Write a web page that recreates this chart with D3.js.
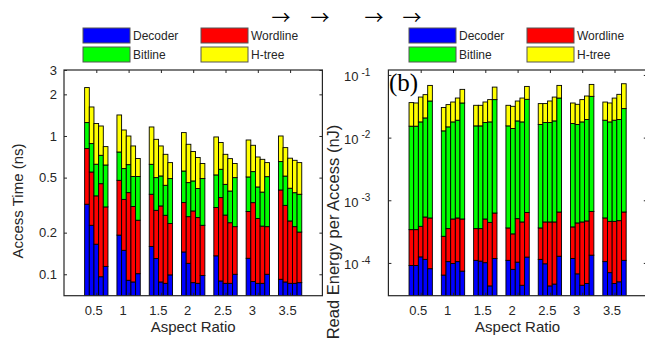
<!DOCTYPE html>
<html>
<head>
<meta charset="utf-8">
<script src="https://cdn.jsdelivr.net/npm/d3@7"></script>
<style>
  html, body { margin: 0; padding: 0; background: #fff; }
  svg { display: block; }
</style>
</head>
<body>
<svg id="chart" width="645" height="345" font-family="Liberation Sans, Arial, sans-serif"></svg>
<script>
// Aspect ratios (x groups) and their tick labels
const aspectRatios = [0.5, 1, 1.5, 2, 2.5, 3, 3.5];
const aspectLabels = ["0.5", "1", "1.5", "2", "2.5", "3", "3.5"];

// Stack components, bottom to top
const componentNames = ["Decoder", "Wordline", "Bitline", "H-tree"];
const componentColors = ["#0000ff", "#ff0000", "#00ff00", "#ffff00"];

// Access time components (ns): one row per aspect ratio, five configurations each
const timeDecoder = [
  [0.321, 0.226, 0.165, 0.096, 0.114],
  [0.192, 0.149, 0.0905, 0.088, 0.101],
  [0.159, 0.130, 0.088, 0.086, 0.099],
  [0.145, 0.120, 0.087, 0.086, 0.098],
  [0.136, 0.0895, 0.086, 0.086, 0.100],
  [0.1305, 0.0886, 0.086, 0.086, 0.100],
  [0.092, 0.088, 0.086, 0.086, 0.087]
];
const timeWordline = [
  [0.490, 0.323, 0.204, 0.356, 0.193],
  [0.286, 0.199, 0.299, 0.221, 0.145],
  [0.220, 0.160, 0.224, 0.181, 0.134],
  [0.185, 0.141, 0.200, 0.171, 0.128],
  [0.168, 0.269, 0.182, 0.150, 0.121],
  [0.154, 0.241, 0.167, 0.137, 0.121],
  [0.315, 0.227, 0.157, 0.135, 0.115]
];
const timeBitline = [
  [0.439, 0.332, 0.256, 0.273, 0.310],
  [0.288, 0.233, 0.231, 0.200, 0.263],
  [0.245, 0.210, 0.202, 0.173, 0.259],
  [0.228, 0.199, 0.186, 0.160, 0.266],
  [0.219, 0.216, 0.179, 0.164, 0.279],
  [0.221, 0.223, 0.175, 0.170, 0.287],
  [0.246, 0.198, 0.176, 0.168, 0.177]
];
const timeHtree = [
  [0.989, 0.740, 0.605, 0.456, 0.221],
  [0.653, 0.524, 0.379, 0.338, 0.178],
  [0.538, 0.446, 0.333, 0.297, 0.150],
  [0.500, 0.411, 0.299, 0.282, 0.140],
  [0.461, 0.322, 0.290, 0.286, 0.132],
  [0.430, 0.304, 0.277, 0.285, 0.134],
  [0.347, 0.311, 0.272, 0.278, 0.263]
];

// Read energy components (nJ)
const energyDecoder = [
  [9.1e-5, 9.1e-5, 1.25e-4, 1.14e-4, 8.1e-5],
  [6.4e-5, 1.05e-4, 9.8e-5, 1.05e-4, 7.4e-5],
  [1.10e-4, 1.07e-4, 1.01e-4, 4.3e-5, 1.18e-4],
  [1.10e-4, 7.9e-5, 1.03e-4, 4.4e-5, 1.24e-4],
  [1.14e-4, 9.7e-5, 4.3e-5, 4.6e-5, 1.28e-4],
  [1.18e-4, 6.7e-5, 4.4e-5, 4.7e-5, 1.33e-4],
  [1.05e-4, 7.0e-5, 4.7e-5, 5.0e-5, 1.10e-4]
];
const energyWordline = [
  [2.49e-4, 2.49e-4, 2.59e-4, 4.27e-4, 4.41e-4],
  [2.02e-4, 2.48e-4, 4.05e-4, 4.17e-4, 4.29e-4],
  [2.43e-4, 2.46e-4, 4.02e-4, 4.01e-4, 5.08e-4],
  [2.52e-4, 2.12e-4, 4.06e-4, 4.07e-4, 5.16e-4],
  [2.48e-4, 3.54e-4, 4.08e-4, 4.05e-4, 5.22e-4],
  [2.58e-4, 3.68e-4, 4.07e-4, 4.21e-4, 5.31e-4],
  [4.18e-4, 3.91e-4, 4.14e-4, 4.23e-4, 5.40e-4]
];
const energyBitline = [
  [1.488e-2, 1.488e-2, 1.743e-2, 2.008e-2, 3.79e-2],
  [1.255e-2, 1.449e-2, 1.731e-2, 1.844e-2, 3.52e-2],
  [1.504e-2, 1.504e-2, 1.693e-2, 1.737e-2, 3.98e-2],
  [1.503e-2, 1.371e-2, 1.797e-2, 1.736e-2, 4.02e-2],
  [1.584e-2, 1.698e-2, 1.698e-2, 1.803e-2, 4.22e-2],
  [1.642e-2, 1.577e-2, 1.736e-2, 1.898e-2, 4.49e-2],
  [1.844e-2, 1.735e-2, 1.850e-2, 1.898e-2, 2.84e-2]
];
const energyHtree = [
  [2.10e-2, 2.05e-2, 2.66e-2, 2.79e-2, 2.97e-2],
  [1.74e-2, 1.88e-2, 1.92e-2, 2.39e-2, 2.32e-2],
  [1.74e-2, 1.74e-2, 1.96e-2, 2.26e-2, 2.36e-2],
  [1.74e-2, 1.76e-2, 1.99e-2, 2.50e-2, 2.48e-2],
  [1.87e-2, 1.75e-2, 2.10e-2, 2.59e-2, 2.53e-2],
  [1.89e-2, 1.78e-2, 2.26e-2, 2.67e-2, 2.51e-2],
  [1.80e-2, 1.79e-2, 2.38e-2, 2.96e-2, 4.34e-2]
];

// Axis tick values
const timeTicks = [0.1, 0.2, 0.5, 1, 2, 3];
const timeTickLabels = ["0.1", "0.2", "0.5", "1", "2", "3"];
const energyTicks = [1e-4, 1e-3, 1e-2, 1e-1];
const energyExponents = ["-4", "-3", "-2", "-1"];

const svg = d3.select("#chart");
const axisColor = "#262626";
const barsPerGroup = 5;
const barWidthUnits = 0.0722;

function drawPanel(opts) {
  const { left, right, top, bottom, yDomain, series } = opts;
  const x = d3.scaleLinear().domain([0, 4]).range([left, right]);
  const y = d3.scaleLog().domain(yDomain).range([bottom, top]);
  const g = svg.append("g");

  const clipId = "clip-" + opts.name;
  svg.append("clipPath").attr("id", clipId)
    .append("rect").attr("x", left).attr("y", top)
    .attr("width", right - left).attr("height", bottom - top);

  // Stacked bars: cumulative sums on a log axis
  const rows = [];
  aspectRatios.forEach((ar, gi) => {
    for (let j = 0; j < barsPerGroup; j++) {
      let cum = 0;
      series.forEach((s, si) => {
        const lo = cum;
        cum += s[gi][j];
        rows.push({ ar, j, si, lo, hi: cum });
      });
    }
  });
  const barPx = x(barWidthUnits) - x(0);
  g.append("g").attr("clip-path", `url(#${clipId})`)
    .selectAll("rect").data(rows).join("rect")
    .attr("x", d => x(d.ar + (d.j - (barsPerGroup - 1) / 2) * barWidthUnits) - barPx / 2)
    .attr("width", barPx)
    .attr("y", d => y(d.hi))
    .attr("height", d => (d.lo > 0 ? y(d.lo) : bottom + 2) - y(d.hi))
    .attr("fill", d => componentColors[d.si])
    .attr("stroke", "#000")
    .attr("stroke-width", 0.9);

  // Axes with inward ticks on all four sides
  const xb = g.append("g").attr("transform", `translate(0,${bottom})`)
    .call(d3.axisBottom(x).tickValues(aspectRatios)
      .tickFormat((d, i) => aspectLabels[i]).tickSizeInner(-3).tickSizeOuter(0).tickPadding(10));
  xb.selectAll("text").attr("dx", (d, i) => (aspectLabels[i].length > 1 ? -3 : -6));
  g.append("g").attr("transform", `translate(0,${top})`)
    .call(d3.axisTop(x).tickValues(aspectRatios).tickFormat("").tickSizeInner(-3).tickSizeOuter(0));
  const yl = g.append("g").attr("transform", `translate(${left},0)`)
    .call(opts.leftAxis(d3.axisLeft(y)).tickSizeInner(-3).tickSizeOuter(0));
  g.append("g").attr("transform", `translate(${right},0)`)
    .call(d3.axisRight(y).tickValues(opts.ticks).tickFormat("").tickSizeInner(-3).tickSizeOuter(0));
  g.selectAll(".domain").remove();
  g.selectAll(".tick line").attr("stroke", axisColor);
  g.selectAll(".tick text").attr("fill", axisColor).attr("font-size", 13)
    .attr("font-family", "Liberation Sans, Arial, sans-serif");
  if (opts.afterLeft) opts.afterLeft(yl);

  g.append("rect").attr("x", left).attr("y", top)
    .attr("width", right - left).attr("height", bottom - top)
    .attr("fill", "none").attr("stroke", axisColor).attr("stroke-width", 1.2);

  g.append("text").attr("x", (left + right) / 2).attr("y", 332)
    .attr("text-anchor", "middle").attr("font-size", 15).attr("fill", axisColor)
    .text("Aspect Ratio");
  return { x, y, g };
}

// Left panel: access time
drawPanel({
  name: "time", left: 64, right: 322.4, top: 70, bottom: 295.7,
  yDomain: [0.07, 3],
  series: [timeDecoder, timeWordline, timeBitline, timeHtree],
  ticks: timeTicks,
  leftAxis: a => a.tickValues(timeTicks).tickFormat((d, i) => timeTickLabels[i]).tickPadding(7)
});
svg.append("text")
  .attr("transform", "translate(22.5,201) rotate(-90)")
  .attr("text-anchor", "middle").attr("font-size", 15).attr("fill", axisColor)
  .text("Access Time (ns)");

// Right panel: read energy
drawPanel({
  name: "energy", left: 388.4, right: 646.8, top: 70, bottom: 295.7,
  yDomain: [3e-5, 0.12],
  series: [energyDecoder, energyWordline, energyBitline, energyHtree],
  ticks: energyTicks,
  leftAxis: a => a.tickValues(energyTicks).tickFormat("").tickPadding(16),
  afterLeft: yl => {
    yl.selectAll(".tick").each(function (d, i) {
      const t = d3.select(this).append("text")
        .attr("x", -18).attr("dy", "0.45em").attr("text-anchor", "end")
        .attr("fill", axisColor).attr("font-size", 13);
      t.append("tspan").text("10");
      t.append("tspan").attr("dx", 3).attr("dy", "-0.55em").attr("font-size", 10)
        .text(energyExponents[i]);
    });
  }
});
svg.append("text")
  .attr("transform", "translate(339,232) rotate(-90)")
  .attr("text-anchor", "middle").attr("font-size", 16.5).attr("fill", axisColor)
  .text("Read Energy per Access (nJ)");

// Panel tag
svg.append("text").attr("x", 389).attr("y", 91)
  .style("font-family", "'Liberation Serif', 'Times New Roman', serif")
  .attr("font-size", 25).attr("fill", "#000").text("(b)");

// Arrows above the panels
const arrowXs = [281, 320, 374, 412];
svg.selectAll("text.arrow").data(arrowXs).join("text").attr("class", "arrow")
  .attr("x", d => d).attr("y", 25).attr("text-anchor", "middle")
  .style("font-family", "'Noto Sans CJK SC', 'Noto Sans CJK JP', sans-serif")
  .attr("font-size", 19).attr("fill", "#000").text("\u2192");

// Legends
function drawLegend(x0) {
  const items = componentNames.map((n, i) => ({
    name: n, color: componentColors[i],
    col: i === 0 || i === 2 ? 0 : 1, row: i < 2 ? 0 : 1
  }));
  const lg = svg.append("g");
  const it = lg.selectAll("g").data(items).join("g")
    .attr("transform", d => `translate(${x0 + d.col * 118},${28 + d.row * 19})`);
  it.append("rect").attr("width", 47).attr("height", 15)
    .attr("fill", d => d.color).attr("stroke", "#555").attr("stroke-width", 1);
  it.append("text").attr("x", 50).attr("y", 12).attr("font-size", 12)
    .attr("fill", "#262626").text(d => d.name);
}
drawLegend(83);
drawLegend(409);
</script>
</body>
</html>
